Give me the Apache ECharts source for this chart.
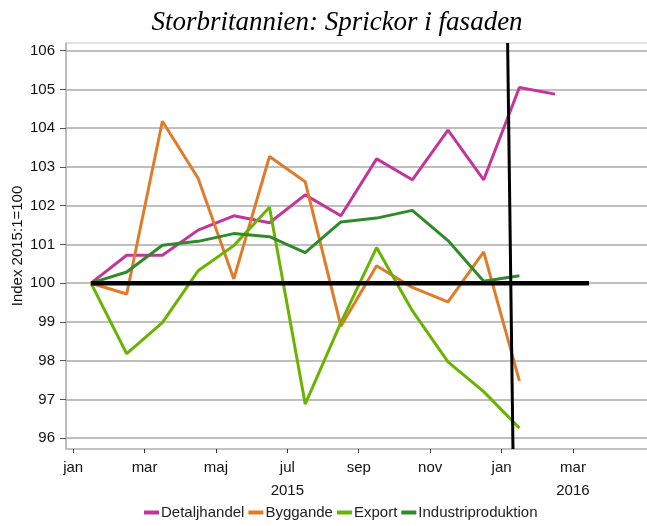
<!DOCTYPE html>
<html>
<head>
<meta charset="utf-8">
<script src="https://cdn.jsdelivr.net/npm/echarts@6/dist/echarts.min.js"></script>
<style>
  html, body { margin: 0; padding: 0; background: #fff; }
  #main { width: 647px; height: 526px; }
</style>
</head>
<body>
<div id="main"></div>
<script>
// månader, index 0 = jan 2015
var months = [0, 1, 2, 3, 4, 5, 6, 7, 8, 9, 10, 11, 12, 13];
var detaljhandel = [100, 100.72, 100.72, 101.37, 101.74, 101.56, 102.28, 101.74, 103.21, 102.67, 103.95, 102.67, 105.05, 104.88];
var byggande = [100, 99.72, 104.18, 102.71, 100.11, 103.27, 102.62, 98.89, 100.45, 99.89, 99.52, 100.81, 97.48];
var exportVals = [100, 98.18, 98.98, 100.32, 100.97, 101.96, 96.88, 98.98, 100.92, 99.29, 97.97, 97.2, 96.26];
var industri = [100, 100.29, 100.98, 101.08, 101.28, 101.2, 100.79, 101.58, 101.68, 101.88, 101.1, 100.05, 100.19];
var baseLine = [[0, 100], [13.95, 100]];
var vertLine = [[11.67, 106.2], [11.82, 95.72]];
var yTicks = [96, 97, 98, 99, 100, 101, 102, 103, 104, 105, 106];
var xTicks = [-0.5, 1.5, 3.5, 5.5, 7.5, 9.5, 11.5, 13.5];
var xLabels = ['jan', 'mar', 'maj', 'jul\n2015', 'sep', 'nov', 'jan', 'mar\n2016'];

function pairs(vals) {
  return vals.map(function (v, i) { return [months[i], v]; });
}

var chart = echarts.init(document.getElementById('main'));
var font = 'Liberation Sans, Arial, sans-serif';

chart.setOption({
  animation: false,
  title: {
    text: 'Storbritannien: Sprickor i fasaden',
    left: 332,
    textAlign: 'center',
    top: 4,
    textStyle: { fontFamily: 'Liberation Serif, Times New Roman, serif', fontStyle: 'italic', fontWeight: 'normal', fontSize: 27, color: '#000' }
  },
  // y-axelns rubrik
  graphic: [{
    type: 'text',
    x: 18, y: 246,
    rotation: Math.PI / 2,
    style: { text: 'Index 2015:1=100', font: '15px ' + font, fill: '#111', align: 'center', verticalAlign: 'middle' }
  }],
  grid: { left: 66, right: -2, top: 43, bottom: 77, outerBoundsMode: 'none', containLabel: false,
    show: true, borderColor: '#c4c4c4', borderWidth: 1 },
  legend: {
    bottom: 1,
    left: 139,
    itemWidth: 15,
    itemHeight: 4,
    itemGap: 4,
    icon: 'rect',
    textStyle: { fontFamily: font, fontSize: 15, color: '#222', padding: [0, 0, 0, -3] },
    data: ['Detaljhandel', 'Byggande', 'Export', 'Industriproduktion']
  },
  xAxis: {
    type: 'value',
    min: -0.7,
    max: 15.63,
    axisLine: { show: true, onZero: false, lineStyle: { color: '#b8b8b8', width: 1.5 } },
    axisTick: { show: true, customValues: xTicks, length: 4, lineStyle: { color: '#333' } },
    axisLabel: {
      customValues: xTicks,
      margin: 7,
      lineHeight: 23,
      fontFamily: font, fontSize: 15, color: '#111',
      formatter: function (v) {
        var i = xTicks.indexOf(v);
        return i >= 0 ? xLabels[i] : '';
      }
    },
    splitLine: { show: false }
  },
  yAxis: {
    type: 'value',
    min: 95.72,
    max: 106.2,
    axisLine: { show: true, onZero: false, lineStyle: { color: '#b0b0b0', width: 1.5 } },
    axisTick: { show: true, customValues: yTicks, length: 6, lineStyle: { color: '#555' } },
    axisLabel: { customValues: yTicks, margin: 11, fontFamily: font, fontSize: 15, color: '#111' },
    splitLine: { show: true, lineStyle: { color: '#aaaaaa', width: 1.5 } }
  },
  series: [
    { name: 'Detaljhandel', type: 'line', data: pairs(detaljhandel), symbol: 'none', lineStyle: { width: 3, color: '#c2359a' }, itemStyle: { color: '#c2359a' }, z: 3 },
    { name: 'Byggande', type: 'line', data: pairs(byggande), symbol: 'none', lineStyle: { width: 3, color: '#e07b29' }, itemStyle: { color: '#e07b29' }, z: 3 },
    { name: 'Export', type: 'line', data: pairs(exportVals), symbol: 'none', lineStyle: { width: 3, color: '#6ab300' }, itemStyle: { color: '#6ab300' }, z: 3 },
    { name: 'Industriproduktion', type: 'line', data: pairs(industri), symbol: 'none', lineStyle: { width: 3, color: '#2f8a2a' }, itemStyle: { color: '#2f8a2a' }, z: 3 },
    { name: 'bas', type: 'line', data: baseLine, symbol: 'none', lineStyle: { width: 4.5, color: '#000' }, z: 4, silent: true },
    { name: 'vert', type: 'line', data: vertLine, symbol: 'none', lineStyle: { width: 3, color: '#000' }, z: 5, silent: true, clip: false }
  ]
});
</script>
</body>
</html>
